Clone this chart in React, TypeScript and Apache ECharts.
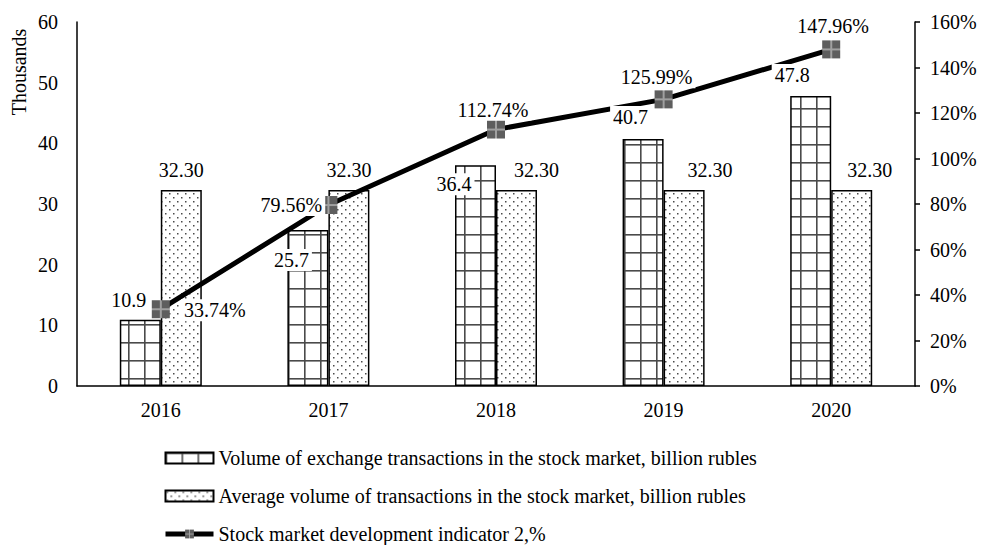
import React, { useEffect, useRef } from 'react';
import * as echarts from 'echarts';

const categories = ['2016', '2017', '2018', '2019', '2020'];
const volumeValues = [10.9, 25.7, 36.4, 40.7, 47.8];
const averageValues = [32.3, 32.3, 32.3, 32.3, 32.3];
const indicatorValues = [33.74, 79.56, 112.74, 125.99, 147.96];

const volumeName = 'Volume of exchange transactions in the stock market, billion rubles';
const averageName = 'Average volume of transactions in the stock market, billion rubles';
const indicatorName = 'Stock market development indicator 2,%';

// label placement (styling only)
const volLabelOffsets = [[-32, -20], [-37, 30], [-42, 19], [-33, -22], [-39, -21]];
const avgLabelDx = [0, 0, 20, 26, 18];
const indLabelOffsets = [[54, 1], [-37, 0], [-3, -20], [-7, -22], [2, -23]];

const FONT = '"Liberation Serif", "Times New Roman", serif';
const FS = 20;

function makeGridPattern() {
  const c = document.createElement('canvas');
  c.width = 16;
  c.height = 18;
  const g = c.getContext('2d')!;
  g.fillStyle = '#ffffff';
  g.fillRect(0, 0, 16, 18);
  g.fillStyle = '#4a4a4a';
  g.fillRect(0, 0, 1.6, 18);
  g.fillRect(0, 0, 16, 1.6);
  return c;
}

function makeDotPattern() {
  const c = document.createElement('canvas');
  c.width = 8;
  c.height = 8;
  const g = c.getContext('2d')!;
  g.fillStyle = '#ffffff';
  g.fillRect(0, 0, 8, 8);
  g.fillStyle = '#4a4a4a';
  g.fillRect(1, 1, 1.5, 1.5);
  g.fillRect(5, 5, 1.5, 1.5);
  return c;
}

function makeMarker() {
  const s = 36;
  const c = document.createElement('canvas');
  c.width = s;
  c.height = s;
  const g = c.getContext('2d')!;
  g.fillStyle = '#5e5e5e';
  g.fillRect(0, 0, s, s);
  g.fillStyle = '#a0a0a0';
  g.fillRect(s / 2 - 2, 0, 4, s);
  g.fillRect(0, s / 2 - 2, s, 4);
  return 'image://' + c.toDataURL();
}

export default function App() {
  const ref = useRef<HTMLDivElement>(null);

  useEffect(() => {
    if (!ref.current) return;
    const chart = echarts.init(ref.current, null, { renderer: 'svg' });
    const gridPat = makeGridPattern();
    const dotPat = makeDotPattern();
    const marker = makeMarker();
    const txt = { fontFamily: FONT, fontSize: FS, color: '#000' };

    chart.setOption({
      animation: false,
      backgroundColor: '#fff',
      textStyle: { fontFamily: FONT },
      grid: { left: 77, right: 66, top: 22, bottom: 159 },
      graphic: [
        {
          type: 'text',
          x: 19,
          y: 72,
          rotation: Math.PI / 2,
          style: {
            text: 'Thousands',
            fontFamily: FONT,
            fontSize: FS,
            fill: '#000',
            align: 'center',
            verticalAlign: 'middle',
          },
        },
      ],
      legend: {
        orient: 'vertical',
        left: 158,
        top: 443,
        height: 200,
        itemWidth: 48,
        itemHeight: 11,
        itemGap: 18,
        textStyle: { ...txt },
        data: [
          { name: volumeName, icon: 'rect' },
          { name: averageName, icon: 'rect' },
          { name: indicatorName, lineStyle: { width: 5, color: '#000' } },
        ],
      },
      xAxis: {
        type: 'category',
        data: categories,
        axisLine: { lineStyle: { color: '#000', width: 1.5 } },
        axisTick: { show: false },
        axisLabel: { ...txt, margin: 14 },
      },
      yAxis: [
        {
          type: 'value',
          min: 0,
          max: 60,
          interval: 10,
          position: 'left',
          axisLine: { show: true, lineStyle: { color: '#000', width: 1.5 } },
          axisTick: { show: false },
          splitLine: { show: false },
          axisLabel: { ...txt, margin: 19 },
        },
        {
          type: 'value',
          min: 0,
          max: 160,
          interval: 20,
          position: 'right',
          axisLine: { show: true, lineStyle: { color: '#000', width: 1.5 } },
          axisTick: { show: true, length: 5, lineStyle: { color: '#000', width: 1.5 } },
          splitLine: { show: false },
          axisLabel: { ...txt, margin: 15, formatter: '{value}%' },
        },
      ],
      series: [
        {
          name: volumeName,
          type: 'bar',
          data: volumeValues,
          barWidth: 41,
          barGap: '0%',
          z: 2,
          itemStyle: {
            color: { image: gridPat, repeat: 'repeat' },
            borderColor: '#000',
            borderWidth: 1.5,
          },
        },
        {
          name: averageName,
          type: 'bar',
          barWidth: 41,
          barGap: '0%',
          z: 2,
          data: averageValues.map((v, i) => ({ value: v, label: { offset: [avgLabelDx[i], 0] } })),
          itemStyle: {
            color: { image: dotPat, repeat: 'repeat' },
            borderColor: '#000',
            borderWidth: 1.5,
          },
          label: {
            show: true,
            position: 'top',
            distance: 10,
            ...txt,
            formatter: (p: any) => Number(p.value).toFixed(2),
          },
        },
        {
          name: indicatorName,
          type: 'line',
          yAxisIndex: 1,
          z: 3,
          symbol: marker,
          symbolSize: 18,
          data: indicatorValues.map((v, i) => ({ value: v, label: { offset: indLabelOffsets[i] } })),
          lineStyle: { color: '#000', width: 5 },
          itemStyle: { color: '#000' },
          label: {
            show: true,
            position: 'inside',
            ...txt,
            backgroundColor: '#fff',
            padding: [1, 3],
            formatter: (p: any) => Number(p.value).toFixed(2) + '%',
          },
        },
        {
          name: 'volumeLabels',
          type: 'scatter',
          z: 5,
          silent: true,
          symbolSize: 0,
          itemStyle: { color: 'rgba(0,0,0,0)', opacity: 1 },
          data: volumeValues.map((v, i) => ({ value: v, label: { offset: volLabelOffsets[i] } })),
          label: {
            show: true,
            position: 'inside',
            ...txt,
            opacity: 1,
            backgroundColor: '#fff',
            padding: [1, 3],
            formatter: (p: any) => Number(p.value).toFixed(1),
          },
        },
      ],
    });

    return () => chart.dispose();
  }, []);

  return <div ref={ref} style={{ width: 981, height: 545, position: 'absolute', left: 0, top: 0 }} />;
}
